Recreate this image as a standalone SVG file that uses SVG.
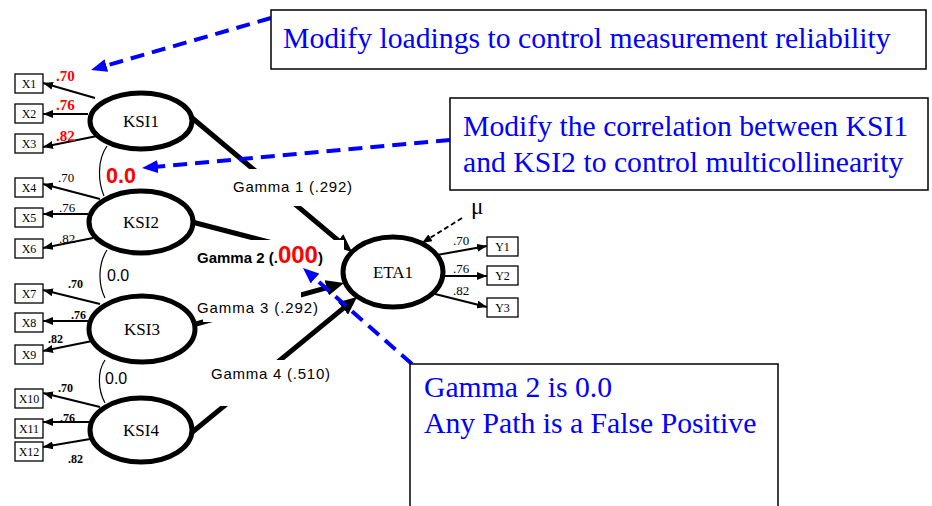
<svg xmlns="http://www.w3.org/2000/svg" width="932" height="506" viewBox="0 0 932 506">
<style>
.lat{fill:#fff;stroke:#000;stroke-width:5}
.obs{fill:#fff;stroke:#000;stroke-width:1.3}
.lt{font-family:"Liberation Serif","Times New Roman",serif;font-size:17px;text-anchor:middle;fill:#000}
.ot{font-family:"Liberation Serif","Times New Roman",serif;font-size:12px;text-anchor:middle;fill:#000}
.ld{stroke:#000;stroke-width:2;fill:none;marker-end:url(#ahs)}
.gm{stroke:#000;stroke-width:5;fill:none}
.cor{stroke:#000;stroke-width:1.2;fill:none}
.bl{stroke:#0000ff;stroke-width:4;fill:none;stroke-dasharray:14 8;marker-end:url(#ahb2)}
.nt{font-family:"Liberation Serif","Times New Roman",serif;font-size:29.7px;fill:#0000ff}
.gl{font-family:"Liberation Sans",Arial,sans-serif;font-size:15px;fill:#000}
.lr{font-family:"Liberation Serif","Times New Roman",serif;font-size:15px;font-weight:bold;fill:#ff0000}
.ln{font-family:"Liberation Serif","Times New Roman",serif;font-size:13px;fill:#000}
.lb{font-family:"Liberation Serif","Times New Roman",serif;font-size:12px;font-weight:bold;fill:#000}
.wh{fill:#fff;stroke:none}
.box{fill:#fff;stroke:#000;stroke-width:1.5}
</style>
<defs>
<marker id="ahs" markerWidth="10" markerHeight="8" refX="10" refY="4" orient="auto" markerUnits="userSpaceOnUse"><path d="M0,0 L10,4 L0,8 z" fill="#000"/></marker>
<marker id="ahb" markerWidth="18" markerHeight="16" refX="10" refY="8" orient="auto" markerUnits="userSpaceOnUse"><path d="M0,0 L18,8 L0,16 z" fill="#000"/></marker>
<marker id="ahb2" markerWidth="16" markerHeight="13" refX="8" refY="6.5" orient="auto" markerUnits="userSpaceOnUse"><path d="M0,0 L16,6.5 L0,13 z" fill="#0000ff"/></marker>
</defs>
<rect width="932" height="506" fill="#fff"/>

<g id="connectors">
<line class="ld" x1="95" y1="98" x2="43" y2="83"/>
<line class="ld" x1="88" y1="114" x2="43" y2="114"/>
<line class="ld" x1="97" y1="136" x2="43" y2="147"/>
<line class="ld" x1="100" y1="199" x2="43" y2="184"/>
<line class="ld" x1="88" y1="214" x2="43" y2="214"/>
<line class="ld" x1="93" y1="238" x2="43" y2="248"/>
<line class="ld" x1="100" y1="304" x2="43" y2="290"/>
<line class="ld" x1="88" y1="321" x2="43" y2="321"/>
<line class="ld" x1="102" y1="339" x2="43" y2="351"/>
<line class="ld" x1="100" y1="407" x2="43" y2="393"/>
<line class="ld" x1="90" y1="422" x2="43" y2="422"/>
<line class="ld" x1="102" y1="437" x2="43" y2="447"/>
<line class="ld" x1="437" y1="255" x2="487" y2="246"/>
<line class="ld" x1="445" y1="276" x2="487" y2="276"/>
<line class="ld" x1="435" y1="294" x2="487" y2="307"/>
<path class="cor" d="M107,146 C97,160 98,182 104,196"/>
<path class="cor" d="M107,250 C98,264 98,284 105,298"/>
<path class="cor" d="M105,360 C97,372 98,390 105,403"/>
<line class="gm" x1="191" y1="117" x2="345.9" y2="246.8" marker-end="url(#ahb)"/>
<line class="gm" x1="192" y1="222" x2="338" y2="260"/>
<line class="gm" x1="196" y1="324" x2="336.3" y2="285.1" marker-end="url(#ahb)"/>
<line class="gm" x1="190" y1="434" x2="350.8" y2="302.1" marker-end="url(#ahb)"/>
<line x1="462" y1="218" x2="422" y2="243" stroke="#000" stroke-width="1.8" stroke-dasharray="5 3" marker-end="url(#ahs)"/>
</g>

<g id="gamma-labels">
<rect class="wh" x="225" y="169" width="135" height="37"/>
<text class="gl" x="233" y="192" textLength="119" lengthAdjust="spacing">Gamma 1 (.292)</text>
<rect class="wh" x="194" y="240" width="150" height="28"/>
<text class="gl" x="197" y="263" font-size="16" font-weight="bold">Gamma 2 (.<tspan fill="#ff0000" font-size="24">000</tspan>)</text>
<rect class="wh" x="203" y="292" width="98" height="30"/>
<text class="gl" x="197" y="313" textLength="121" lengthAdjust="spacing">Gamma 3 (.292)</text>
<rect class="wh" x="205" y="360" width="130" height="46"/>
<text class="gl" x="211" y="379" textLength="119" lengthAdjust="spacing">Gamma 4 (.510)</text>
</g>

<g id="loading-labels">
<text class="lr" x="56" y="81">.70</text>
<text class="lr" x="56" y="110">.76</text>
<text class="lr" x="56" y="141">.82</text>
<text class="ln" x="58" y="182">.70</text>
<text class="ln" x="59" y="212">.76</text>
<text class="ln" x="59" y="243">.82</text>
<text class="lb" x="68" y="288">.70</text>
<text class="lb" x="71" y="319">.76</text>
<text class="lb" x="48" y="343">.82</text>
<text class="lb" x="58" y="392">.70</text>
<text class="lb" x="60" y="422">.76</text>
<text class="lb" x="68" y="463">.82</text>
<text class="ln" x="453" y="245">.70</text>
<text class="ln" x="453" y="273">.76</text>
<text class="ln" x="453" y="295">.82</text>
<text x="106" y="183" font-family="Liberation Sans,Arial,sans-serif" font-size="21.5" font-weight="bold" fill="#ff0000">0.0</text>
<text x="107" y="281" font-family="Liberation Sans,Arial,sans-serif" font-size="16" fill="#000">0.0</text>
<text x="105" y="384" font-family="Liberation Sans,Arial,sans-serif" font-size="16" fill="#000">0.0</text>
<text x="471" y="214" font-family="Liberation Serif,Times New Roman,serif" font-size="23" fill="#000">μ</text>
</g>

<g id="KSI1"><ellipse class="lat" cx="141" cy="121" rx="51" ry="28"/><text class="lt" x="141" y="127">KSI1</text></g>
<g id="KSI2"><ellipse class="lat" cx="141" cy="222" rx="52" ry="31"/><text class="lt" x="141" y="228">KSI2</text></g>
<g id="KSI3"><ellipse class="lat" cx="142" cy="329" rx="53" ry="33"/><text class="lt" x="142" y="335">KSI3</text></g>
<g id="KSI4"><ellipse class="lat" cx="141" cy="430" rx="51" ry="32"/><text class="lt" x="141" y="436">KSI4</text></g>
<g id="ETA1"><ellipse class="lat" cx="393" cy="272" rx="50" ry="35"/><text class="lt" x="393" y="278">ETA1</text></g>

<g id="X1"><rect class="obs" x="15" y="74" width="28" height="19"/><text class="ot" x="29" y="88">X1</text></g>
<g id="X2"><rect class="obs" x="15" y="104" width="28" height="19"/><text class="ot" x="29" y="118">X2</text></g>
<g id="X3"><rect class="obs" x="15" y="134" width="28" height="19"/><text class="ot" x="29" y="148">X3</text></g>
<g id="X4"><rect class="obs" x="15" y="178" width="28" height="19"/><text class="ot" x="29" y="192">X4</text></g>
<g id="X5"><rect class="obs" x="15" y="208" width="28" height="19"/><text class="ot" x="29" y="222">X5</text></g>
<g id="X6"><rect class="obs" x="15" y="239" width="28" height="19"/><text class="ot" x="29" y="253">X6</text></g>
<g id="X7"><rect class="obs" x="15" y="284" width="28" height="19"/><text class="ot" x="29" y="298">X7</text></g>
<g id="X8"><rect class="obs" x="15" y="313" width="28" height="19"/><text class="ot" x="29" y="327">X8</text></g>
<g id="X9"><rect class="obs" x="15" y="345" width="28" height="19"/><text class="ot" x="29" y="359">X9</text></g>
<g id="X10"><rect class="obs" x="15" y="389" width="28" height="19"/><text class="ot" x="29" y="403">X10</text></g>
<g id="X11"><rect class="obs" x="15" y="419" width="28" height="19"/><text class="ot" x="29" y="433">X11</text></g>
<g id="X12"><rect class="obs" x="15" y="442" width="28" height="19"/><text class="ot" x="29" y="456">X12</text></g>
<g id="Y1"><rect class="obs" x="487" y="237" width="31" height="19"/><text class="ot" x="502.5" y="251">Y1</text></g>
<g id="Y2"><rect class="obs" x="487" y="266" width="31" height="19"/><text class="ot" x="502.5" y="280">Y2</text></g>
<g id="Y3"><rect class="obs" x="487" y="298" width="31" height="19"/><text class="ot" x="502.5" y="312">Y3</text></g>

<g id="note-connectors">
<line class="bl" x1="271" y1="18" x2="98.7" y2="67.8"/>
<line class="bl" x1="450" y1="140" x2="150" y2="167.3"/>
<line class="bl" x1="412" y1="364" x2="309" y2="273.3"/>
</g>

<g id="note1"><rect class="box" x="271" y="10" width="655" height="59"/><text class="nt" x="283" y="48">Modify loadings to control measurement reliability</text></g>
<g id="note2"><rect class="box" x="450" y="98" width="478" height="92"/><text class="nt" x="463" y="136">Modify the correlation between KSI1</text><text class="nt" x="463" y="172">and KSI2 to control multicollinearity</text></g>
<g id="note3"><rect class="box" x="410" y="364" width="368" height="150"/><text class="nt" x="424" y="397">Gamma 2 is 0.0</text><text class="nt" x="424" y="433">Any Path is a False Positive</text></g>
</svg>
